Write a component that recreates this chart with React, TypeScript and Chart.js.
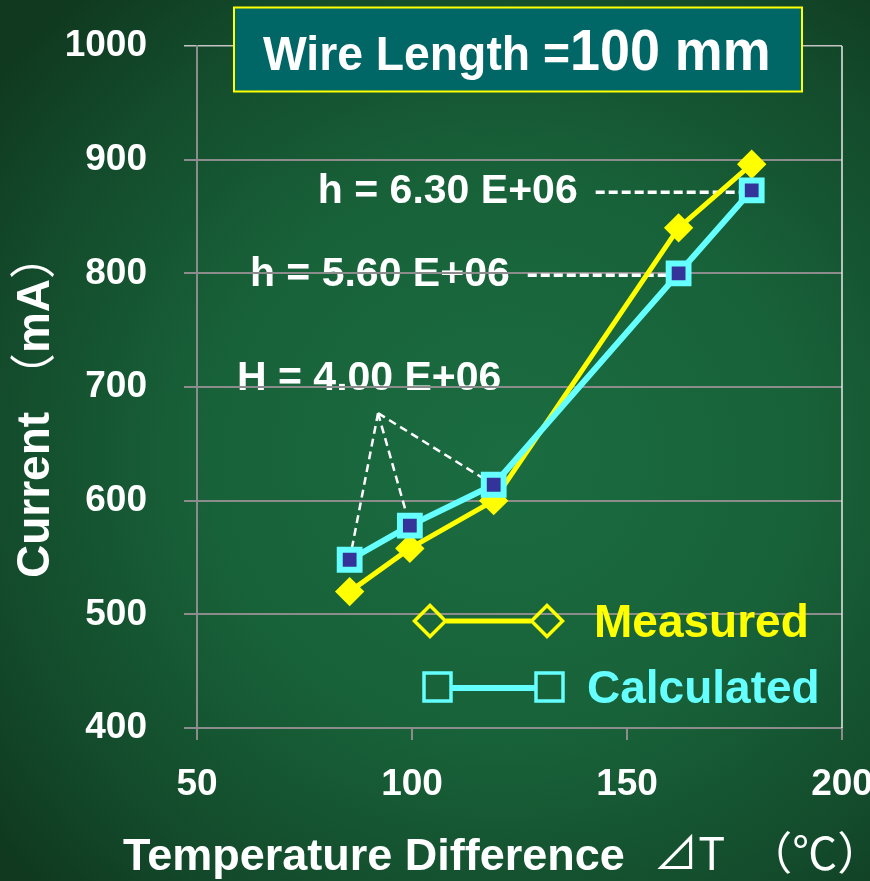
import { useEffect, useRef } from "react";
import { Chart, registerables } from "chart.js";

Chart.register(...registerables);

// ---- data ----
const deltaT = [85.5, 99.5, 119, 162, 179];
const measured = [520, 558, 600, 840, 896];
const calculated = [548, 578, 614, 800, 873];
const seriesNames = ["Measured", "Calculated"];
const xRange = [50, 200];
const yRange = [400, 1000];
const xStep = 50;
const yStep = 100;
const titleParts = ["Wire Length =", "100 mm"];
const yTitleParts = ["Current ", "（", "mA", "）"];
const xTitleParts = ["Temperature Difference ", "⊿T", "（℃）"];
// annotation labels (h values), anchored at data x; each points to a Calculated point
const hLabels = ["h = 6.30 E+06", "h = 5.60 E+06"];
const hLabelStartX = [78.1, 62.3];
const hTargets = [4, 3];
const bigHLabel = "H = 4.00 E+06";
const bigHAnchor = { x: 59.3, y: 707 };
const bigHApex = { x: 92.1, y: 677 };
const bigHTargets = [0, 1, 2];

const FONT = "'Liberation Sans', Arial, sans-serif";
const CJK = "'Noto Sans CJK JP', 'Noto Sans CJK SC', sans-serif";
const YELLOW = "#ffff00";
const CYAN = "#66ffff";
const NAVY = "#333399";
const GRID = "#8c8c8c";

type Run = { text: string; font: string; gap?: number };

function drawRuns(ctx: CanvasRenderingContext2D, runs: Run[], x: number, y: number, sx = 1) {
  let cx = x;
  for (const r of runs) {
    cx += r.gap || 0;
    ctx.font = r.font;
    ctx.save();
    ctx.translate(cx, y);
    ctx.scale(sx, 1);
    ctx.fillText(r.text, 0, 0);
    ctx.restore();
    cx += ctx.measureText(r.text).width * sx;
  }
  return cx;
}

const annotationTextPlugin = {
  id: "annotationText",
  beforeDraw(chart: any) {
    const { ctx, scales } = chart;
    const xs = scales.x;
    const ys = scales.y;
    ctx.save();
    ctx.fillStyle = "#ffffff";
    ctx.textAlign = "left";
    ctx.textBaseline = "middle";
    ctx.font = `bold 41px ${FONT}`;
    hLabels.forEach((label, i) => {
      const y = ys.getPixelForValue(calculated[hTargets[i]]);
      ctx.fillText(label, xs.getPixelForValue(hLabelStartX[i]), y + 1);
    });
    ctx.fillText(bigHLabel, xs.getPixelForValue(bigHAnchor.x), ys.getPixelForValue(bigHAnchor.y));
    ctx.restore();
  },
};

const annotationLinePlugin = {
  id: "annotationLines",
  beforeDatasetsDraw(chart: any) {
    const { ctx, scales } = chart;
    const xs = scales.x;
    const ys = scales.y;
    ctx.save();
    ctx.strokeStyle = "#ffffff";
    ctx.font = `bold 41px ${FONT}`;
    ctx.lineWidth = 3.5;
    ctx.setLineDash([9, 4]);
    hLabels.forEach((label, i) => {
      const start = xs.getPixelForValue(hLabelStartX[i]) + ctx.measureText(label).width + 18;
      const tx = xs.getPixelForValue(deltaT[hTargets[i]]);
      const ty = ys.getPixelForValue(calculated[hTargets[i]]) + 2;
      ctx.beginPath();
      ctx.moveTo(start, ty);
      ctx.lineTo(tx, ty);
      ctx.stroke();
    });
    ctx.lineWidth = 2.5;
    ctx.setLineDash([8, 5]);
    const ax = xs.getPixelForValue(bigHApex.x);
    const ay = ys.getPixelForValue(bigHApex.y);
    bigHTargets.forEach((t) => {
      ctx.beginPath();
      ctx.moveTo(ax, ay);
      ctx.lineTo(xs.getPixelForValue(deltaT[t]), ys.getPixelForValue(calculated[t]));
      ctx.stroke();
    });
    ctx.restore();
  },
};

function diamond(ctx: CanvasRenderingContext2D, x: number, y: number, r: number) {
  ctx.beginPath();
  ctx.moveTo(x - r, y);
  ctx.lineTo(x, y - r);
  ctx.lineTo(x + r, y);
  ctx.lineTo(x, y + r);
  ctx.closePath();
  ctx.stroke();
}

const decorPlugin = {
  id: "decor",
  afterDraw(chart: any) {
    const { ctx, chartArea } = chart;
    ctx.save();
    // right frame line
    ctx.strokeStyle = "#e8e8e8";
    ctx.lineWidth = 1.5;
    ctx.beginPath();
    ctx.moveTo(chartArea.right, chartArea.top);
    ctx.lineTo(chartArea.right, chartArea.bottom);
    ctx.stroke();

    // legend
    ctx.lineWidth = 5;
    ctx.strokeStyle = YELLOW;
    ctx.beginPath();
    ctx.moveTo(446, 621);
    ctx.lineTo(531, 621);
    ctx.stroke();
    ctx.lineWidth = 3.5;
    diamond(ctx, 430, 621, 15.5);
    diamond(ctx, 547, 621, 15.5);

    ctx.strokeStyle = CYAN;
    ctx.lineWidth = 6;
    ctx.beginPath();
    ctx.moveTo(452, 688);
    ctx.lineTo(535, 688);
    ctx.stroke();
    ctx.lineWidth = 3.5;
    ctx.strokeRect(437.5 - 13.5, 687 - 14, 27, 28);
    ctx.strokeRect(549.5 - 13.5, 687 - 14, 27, 28);

    ctx.textAlign = "left";
    ctx.textBaseline = "alphabetic";
    ctx.font = `bold 46px ${FONT}`;
    ctx.fillStyle = YELLOW;
    ctx.fillText(seriesNames[0], 594, 637);
    ctx.fillStyle = CYAN;
    ctx.fillText(seriesNames[1], 587, 703);

    // axis titles
    ctx.fillStyle = "#ffffff";
    ctx.save();
    ctx.translate(49, 578);
    ctx.rotate(-Math.PI / 2);
    drawRuns(ctx, [
      { text: yTitleParts[0], font: `bold 46px ${FONT}` },
      { text: yTitleParts[1], font: `46px ${CJK}` },
      { text: yTitleParts[2], font: `bold 46px ${FONT}` },
      { text: yTitleParts[3], font: `46px ${CJK}` },
    ], 0, 0);
    ctx.restore();
    drawRuns(ctx, [
      { text: xTitleParts[0], font: `bold 45px ${FONT}` },
      { text: xTitleParts[1], font: `45px ${CJK}`, gap: 16 },
      { text: xTitleParts[2], font: `45px ${CJK}`, gap: 22 },
    ], 123, 870);

    // title box
    ctx.fillStyle = "#006666";
    ctx.fillRect(233.5, 7, 569, 85);
    ctx.strokeStyle = YELLOW;
    ctx.lineWidth = 2;
    ctx.strokeRect(234, 7.5, 568, 84);
    ctx.fillStyle = "#ffffff";
    drawRuns(ctx, [
      { text: titleParts[0], font: `bold 49px ${FONT}` },
      { text: titleParts[1], font: `bold 57px ${FONT}` },
    ], 263, 70, 0.945);
    ctx.restore();
  },
};

export default function App() {
  const ref = useRef<HTMLCanvasElement>(null);
  useEffect(() => {
    const chart = new Chart(ref.current!, {
      type: "line",
      data: {
        datasets: [
          {
            label: seriesNames[1],
            data: deltaT.map((x, i) => ({ x, y: calculated[i] })),
            borderColor: CYAN,
            borderWidth: 6,
            pointStyle: "rect",
            pointRadius: 14,
            pointBorderWidth: 6,
            pointBackgroundColor: NAVY,
            pointBorderColor: CYAN,
            tension: 0,
          },
          {
            label: seriesNames[0],
            data: deltaT.map((x, i) => ({ x, y: measured[i] })),
            borderColor: YELLOW,
            borderWidth: 5,
            pointStyle: "rectRot",
            pointRadius: 11.5,
            pointBorderWidth: 4.5,
            pointBackgroundColor: YELLOW,
            pointBorderColor: YELLOW,
            tension: 0,
          },
        ],
      },
      options: {
        animation: false,
        responsive: false,
        events: [],
        layout: { padding: { top: 46, right: 28, left: 0, bottom: 0 } },
        plugins: { legend: { display: false }, tooltip: { enabled: false }, title: { display: false } },
        scales: {
          x: {
            type: "linear",
            min: xRange[0],
            max: xRange[1],
            ticks: {
              stepSize: xStep,
              color: "#ffffff",
              font: { family: FONT, size: 37, weight: "bold" },
              padding: 23,
              callback: (v: any) => String(v),
            },
            grid: { drawOnChartArea: false, color: GRID, lineWidth: 2, tickLength: 12 },
            border: { color: GRID, width: 2 },
            afterFit: (s: any) => {
              s.height = 153;
              s.paddingLeft = 0;
              s.paddingRight = 0;
            },
          },
          y: {
            min: yRange[0],
            max: yRange[1],
            ticks: {
              stepSize: yStep,
              color: "#ffffff",
              font: { family: FONT, size: 37, weight: "bold" },
              padding: 37,
              callback: (v: any) => String(v),
            },
            grid: {
              color: (c: any) => (c.tick && c.tick.value === yRange[1] ? "#c4c4c4" : GRID),
              lineWidth: (c: any) => (c.tick && c.tick.value === yRange[1] ? 1.5 : 2),
              tickLength: 13,
            },
            border: { color: GRID, width: 2 },
            afterFit: (s: any) => {
              s.width = 197;
              s.paddingTop = 0;
              s.paddingBottom = 0;
            },
          },
        },
      } as any,
      plugins: [annotationTextPlugin, annotationLinePlugin, decorPlugin],
    });
    return () => chart.destroy();
  }, []);
  return (
    <div
      style={{
        position: "absolute",
        left: 0,
        top: 0,
        width: 870,
        height: 881,
        background:
          "radial-gradient(ellipse 75% 70% at 58% 52%, #1b6c41 0%, #186239 45%, #134a2b 80%, #10391f 100%)",
      }}
    >
      <canvas ref={ref} width={870} height={881} style={{ display: "block" }} />
    </div>
  );
}
